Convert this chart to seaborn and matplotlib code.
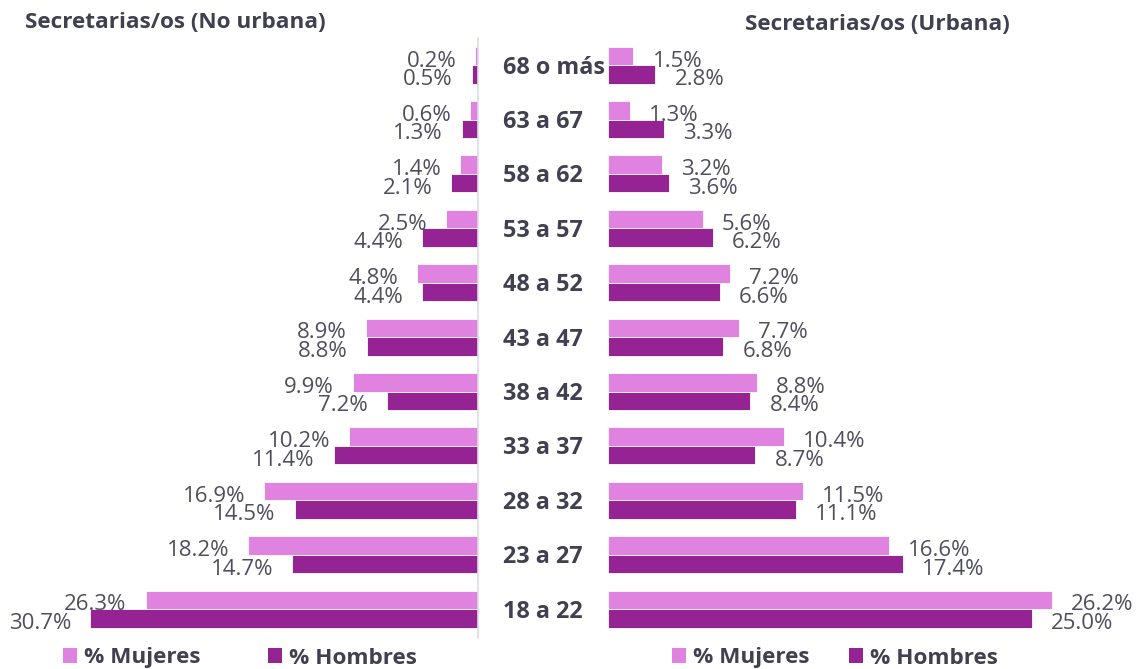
import pandas as pd
import matplotlib
matplotlib.use("Agg")
import matplotlib.pyplot as plt
from matplotlib.patches import Patch
import seaborn as sns

# Datos
edades = ['68 o más', '63 a 67', '58 a 62', '53 a 57', '48 a 52', '43 a 47',
          '38 a 42', '33 a 37', '28 a 32', '23 a 27', '18 a 22']
no_urb_mujeres = [0.2, 0.6, 1.4, 2.5, 4.8, 8.9, 9.9, 10.2, 16.9, 18.2, 26.3]
no_urb_hombres = [0.5, 1.3, 2.1, 4.4, 4.4, 8.8, 7.2, 11.4, 14.5, 14.7, 30.7]
urb_mujeres = [1.5, 1.3, 3.2, 5.6, 7.2, 7.7, 8.8, 10.4, 11.5, 16.6, 26.2]
urb_hombres = [2.8, 3.3, 3.6, 6.2, 6.6, 6.8, 8.4, 8.7, 11.1, 17.4, 25.0]
series = ['% Mujeres', '% Hombres']
titulos = ['Secretarias/os (No urbana)', 'Secretarias/os (Urbana)']

colores = {'% Mujeres': '#E083E0', '% Hombres': '#952394'}
gris_txt = '#404050'
gris_num = '#4E4E5E'

sns.set_style('white')
plt.rcParams['font.family'] = ['Open Sans', 'DejaVu Sans']


def armar_df(mujeres, hombres):
    df = pd.DataFrame({'edad': edades * 2,
                       'valor': mujeres + hombres,
                       'sexo': [series[0]] * len(edades) + [series[1]] * len(edades)})
    return df


fig = plt.figure(figsize=(11.38, 6.69), dpi=100)
W, H = 1138, 669
ax_l = fig.add_axes([10 / W, 31 / H, 468 / W, 600 / H])
ax_r = fig.add_axes([608 / W, 31 / H, 522 / W, 600 / H])

paneles = [(ax_l, armar_df(no_urb_mujeres, no_urb_hombres), (37.03, 0), -1),
           (ax_r, armar_df(urb_mujeres, urb_hombres), (0, 30.8), 1)]

for ax, df, xlim, sentido in paneles:
    sns.barplot(data=df, x='valor', y='edad', hue='sexo', orient='h',
                order=edades, hue_order=series, palette=colores, width=0.68,
                saturation=1, edgecolor='white', linewidth=0.6, legend=False, ax=ax)
    ax.set_xlim(*xlim)
    ax.set_ylim(10.53, -0.5)
    ax.set_xlabel('')
    ax.set_ylabel('')
    ax.set_xticks([])
    ax.set_yticks([])
    for s in ax.spines.values():
        s.set_visible(False)

    # etiquetas de datos
    for cont, nombre in zip(ax.containers, series):
        vals = df.loc[df['sexo'] == nombre, 'valor'].tolist()
        for barra, v in zip(cont, vals):
            yc = barra.get_y() + barra.get_height() / 2
            ax.annotate(f'{v:.1f}%', xy=(v, yc), xytext=(13.7 * sentido, -7.6),
                        textcoords='offset points',
                        ha='right' if sentido < 0 else 'left', va='baseline',
                        fontsize=16, color=gris_num)

# linea del eje en el panel izquierdo
ax_l.spines['right'].set_visible(True)
ax_l.spines['right'].set_color('#DCDCE4')
ax_l.spines['right'].set_linewidth(1.2)

# etiquetas de edad en el centro
for i, e in enumerate(edades):
    ax_r.text(-105 / 522, i + 0.156, e, transform=ax_r.get_yaxis_transform(),
              ha='left', va='baseline', fontsize=16.8, fontweight='bold',
              color=gris_txt)

# titulos
fig.text(25 / W, 1 - 22 / H, titulos[0], ha='left', va='center',
         fontsize=16.2, fontweight='bold', color=gris_txt)
fig.text(877 / W, 1 - 24 / H, titulos[1], ha='center', va='center',
         fontsize=16.2, fontweight='bold', color=gris_txt)

# leyendas
manijas = [Patch(facecolor=colores[s], edgecolor='none') for s in series]
for cx, sep in ((240 / W, 3.0), (835 / W, 1.75)):
    fig.legend(manijas, series, ncol=2, loc='center', bbox_to_anchor=(cx, 11 / H),
               frameon=False, handlelength=0.62, handleheight=0.62,
               handletextpad=0.3, columnspacing=sep,
               prop={'size': 16.2, 'weight': 'bold'}, labelcolor=gris_txt)

fig.savefig('out.png', dpi=100)
